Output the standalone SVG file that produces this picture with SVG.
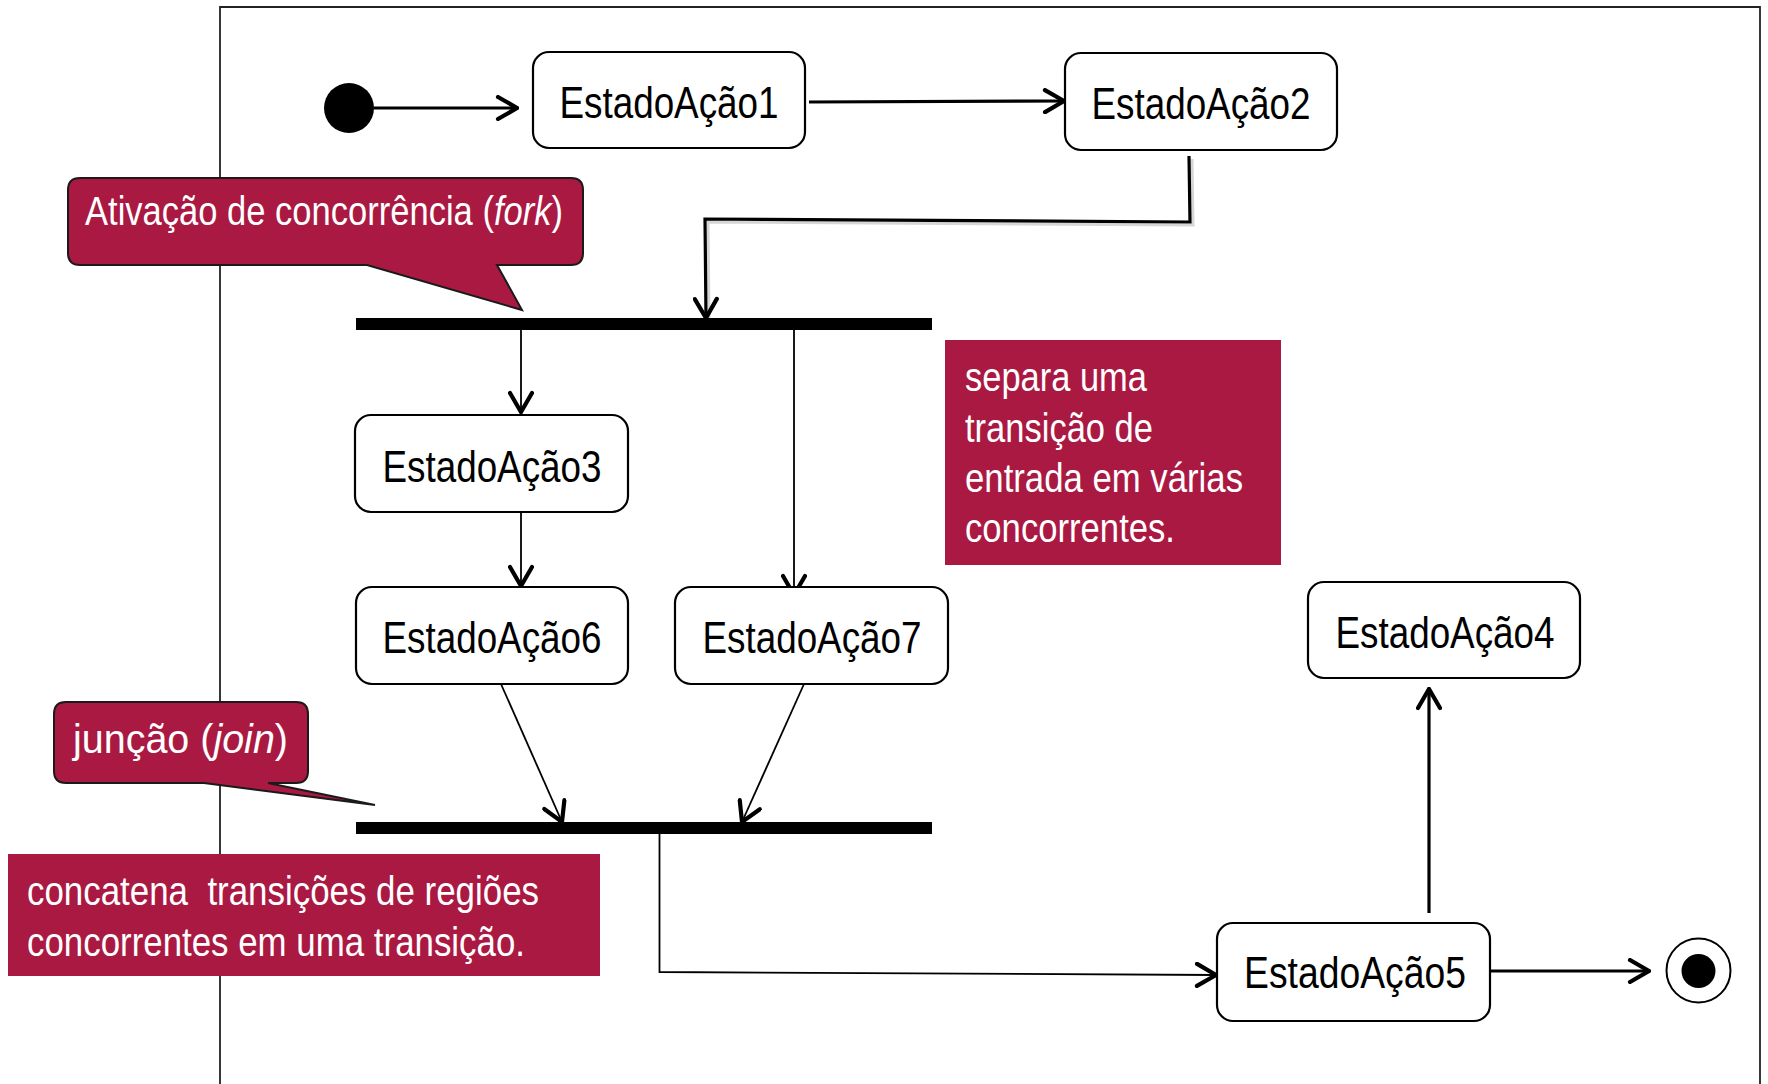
<svg xmlns="http://www.w3.org/2000/svg" width="1768" height="1084" viewBox="0 0 1768 1084">
<style>
.node rect{fill:#fff;stroke:#000;stroke-width:2.2}
.lbl{font-family:"Liberation Sans Narrow","Liberation Sans",Arial,sans-serif;font-size:44px;fill:#000;text-anchor:middle}
.note{font-family:"Liberation Sans Narrow","Liberation Sans",Arial,sans-serif;font-size:40px;fill:#fff}
.it{font-style:italic}
.callout{fill:#AA1942;stroke:#1a1a1a;stroke-width:2}
.box{fill:#AA1942}
.thick{fill:none;stroke:#000;stroke-width:3.2}
.thin{fill:none;stroke:#000;stroke-width:1.8}
.bar{fill:#000}
</style>
<defs>
<marker id="arr" viewBox="0 0 24 26" refX="22" refY="13" markerWidth="24" markerHeight="26" markerUnits="userSpaceOnUse" orient="auto">
<path d="M3,2 L22,13 L3,24" fill="none" stroke="#000" stroke-width="4.2" stroke-linecap="round" stroke-linejoin="miter"/>
</marker>
</defs>
<rect width="1768" height="1084" fill="#fff"/>
<g id="frame">
<path d="M220,1084 V7 H1760 V1084" fill="none" stroke="#222" stroke-width="1.8"/>
</g>
<g id="connectors">
<path class="thick" d="M374,108 L517,108" marker-end="url(#arr)"/>
<path class="thick" d="M809,102 L1064,101" marker-end="url(#arr)"/>
<path d="M1192,159 L1193,225 L708,222 L709,318" fill="none" stroke="#bbb" stroke-width="3" opacity="0.6"/>
<path class="thick" d="M1189,156 L1190,222 L705,219 L706,318" marker-end="url(#arr)"/>
<path class="thin" d="M521,330 L521,412" marker-end="url(#arr)"/>
<path class="thin" d="M521,512 L521,586" marker-end="url(#arr)"/>
<path class="thin" d="M794,330 L794,595" marker-end="url(#arr)"/>
<path class="thin" d="M501,684 L562,822" marker-end="url(#arr)"/>
<path class="thin" d="M804,684 L742,822" marker-end="url(#arr)"/>
<path class="thin" d="M659.5,834 L659.5,972 L1216,975" marker-end="url(#arr)"/>
<path class="thick" d="M1429,913 L1429,689" marker-end="url(#arr)"/>
<path class="thick" d="M1491,971 L1649,971" marker-end="url(#arr)"/>
</g>
<g id="initial"><circle cx="349" cy="108" r="25" fill="#000"/></g>
<g id="final">
<circle cx="1698.5" cy="970.5" r="32" fill="#fff" stroke="#000" stroke-width="2"/>
<circle cx="1698.5" cy="971" r="17" fill="#000"/>
</g>
<g id="fork"><rect class="bar" x="356" y="318" width="576" height="12"/></g>
<g id="join"><rect class="bar" x="356" y="822" width="576" height="12"/></g>
<g id="a1" class="node"><rect x="533" y="52" width="272" height="96" rx="16"/><text class="lbl" x="669" y="118" textLength="219" lengthAdjust="spacingAndGlyphs">EstadoAção1</text></g>
<g id="a2" class="node"><rect x="1065" y="53" width="272" height="97" rx="16"/><text class="lbl" x="1201" y="119" textLength="219" lengthAdjust="spacingAndGlyphs">EstadoAção2</text></g>
<g id="a3" class="node"><rect x="355" y="415" width="273" height="97" rx="16"/><text class="lbl" x="492" y="482" textLength="219" lengthAdjust="spacingAndGlyphs">EstadoAção3</text></g>
<g id="a6" class="node"><rect x="356" y="587" width="272" height="97" rx="16"/><text class="lbl" x="492" y="653" textLength="219" lengthAdjust="spacingAndGlyphs">EstadoAção6</text></g>
<g id="a7" class="node"><rect x="675" y="587" width="273" height="97" rx="16"/><text class="lbl" x="812" y="653" textLength="219" lengthAdjust="spacingAndGlyphs">EstadoAção7</text></g>
<g id="a4" class="node"><rect x="1308" y="582" width="272" height="96" rx="16"/><text class="lbl" x="1445" y="648" textLength="219" lengthAdjust="spacingAndGlyphs">EstadoAção4</text></g>
<g id="a5" class="node"><rect x="1217" y="923" width="273" height="98" rx="16"/><text class="lbl" x="1355" y="988" textLength="222" lengthAdjust="spacingAndGlyphs">EstadoAção5</text></g>
<g id="fork-callout">
<path class="callout" d="M80,178 H571 Q583,178 583,190 V253 Q583,265 571,265 H497 L522,310 L367,265 H80 Q68,265 68,253 V190 Q68,178 80,178 Z"/>
<text class="note" x="85" y="225" textLength="478" lengthAdjust="spacingAndGlyphs">Ativação de concorrência (<tspan class="it">fork</tspan>)</text>
</g>
<g id="join-callout">
<path class="callout" d="M66,702 H296 Q308,702 308,714 V771 Q308,783 296,783 H268 L375,805 L204,783 H66 Q54,783 54,771 V714 Q54,702 66,702 Z"/>
<text class="note" x="73" y="753" font-size="44" textLength="215" lengthAdjust="spacingAndGlyphs">junção (<tspan class="it">join</tspan>)</text>
</g>
<g id="fork-note">
<rect class="box" x="945" y="340" width="336" height="225"/>
<text class="note" x="965" y="391" textLength="182" lengthAdjust="spacingAndGlyphs">separa uma</text>
<text class="note" x="965" y="442" textLength="188" lengthAdjust="spacingAndGlyphs">transição de</text>
<text class="note" x="965" y="492" textLength="278" lengthAdjust="spacingAndGlyphs">entrada em várias</text>
<text class="note" x="965" y="542" textLength="210" lengthAdjust="spacingAndGlyphs">concorrentes.</text>
</g>
<g id="join-note">
<rect class="box" x="8" y="854" width="592" height="122"/>
<text class="note" x="27" y="905" textLength="512" lengthAdjust="spacingAndGlyphs" xml:space="preserve">concatena  transições de regiões</text>
<text class="note" x="27" y="956" textLength="498" lengthAdjust="spacingAndGlyphs">concorrentes em uma transição.</text>
</g>
</svg>
